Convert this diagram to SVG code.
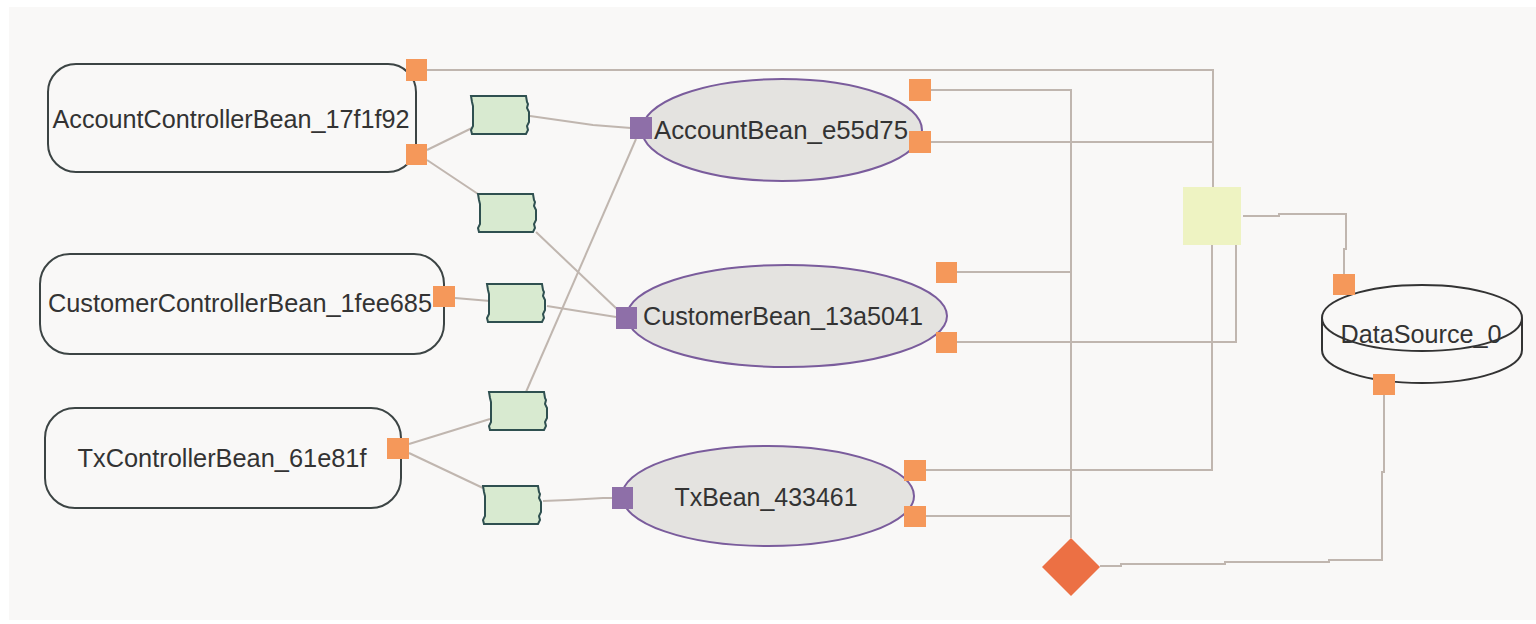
<svg xmlns="http://www.w3.org/2000/svg" width="1536" height="624" viewBox="0 0 1536 624">
<style>
.bg{fill:#f9f8f7}
.ctl{fill:#f9f8f7;stroke:#3c4444;stroke-width:2}
.bean{fill:#e4e3e0;stroke:#7a5c9c;stroke-width:2}
.lbl{font-family:"Liberation Sans",Arial,sans-serif;font-size:26px;fill:#333;text-anchor:middle}
.op{fill:#f5985a}
.pp{fill:#8e6fa8}
.g{fill:#d8ead0;stroke:#2f5050;stroke-width:2}
.wire{fill:none;stroke:#c0b6af;stroke-width:2}
.ds{fill:none;stroke:#333;stroke-width:2}
</style>
<defs>
<path id="tape" d="M0,0 H55 L56,6 L57,8 L56,12 L58,16 V26 L56,30 L57,34 L55,38 H1 L0,34 L2,30 V10 L1,6 Z"/>
</defs>
<rect x="0" y="0" width="1536" height="624" fill="#ffffff"/>
<rect class="bg" x="9" y="7" width="1527" height="613"/>

<g id="connectors">
<polyline class="wire" points="427,70 1213,70 1213,187"/>
<polyline class="wire" points="931,90 1071,90 1071,538"/>
<polyline class="wire" points="931,142 1213,142"/>
<polyline class="wire" points="957,272 1071,272"/>
<polyline class="wire" points="957,342 1236,342 1236,245"/>
<polyline class="wire" points="926,470 1212,470 1212,245"/>
<polyline class="wire" points="926,516 1071,516"/>
<polyline class="wire" points="1243,216 1279,216 1279,214 1346,214 1346,249 1344,249 1344,274"/>
<polyline class="wire" points="1384,395 1384,472 1382,472 1382,560 1329,560 1329,562 1225,562 1225,564 1121,564 1121,566 1100,566"/>
<polyline class="wire" points="427,150 472,128"/>
<polyline class="wire" points="427,160 478,194"/>
<polyline class="wire" points="530,116 593,125 631,128"/>
<polyline class="wire" points="536,232 618,310"/>
<polyline class="wire" points="455,298 490,301"/>
<polyline class="wire" points="547,306 616,317"/>
<polyline class="wire" points="526,392 636,139"/>
<polyline class="wire" points="409,444 490,419"/>
<polyline class="wire" points="409,453 483,488"/>
<polyline class="wire" points="543,501 568,500 603,498 612,498"/>
</g>

<g id="AccountControllerBean">
<rect class="ctl" x="48" y="64" width="368" height="108" rx="28"/>
<text class="lbl" x="231" y="128" textLength="357" lengthAdjust="spacingAndGlyphs">AccountControllerBean_17f1f92</text>
<rect class="op" x="406" y="59" width="21" height="22"/>
<rect class="op" x="406" y="144" width="21" height="21"/>
</g>

<g id="CustomerControllerBean">
<rect class="ctl" x="40" y="254" width="404" height="100" rx="30"/>
<text class="lbl" x="240" y="312" textLength="384" lengthAdjust="spacingAndGlyphs">CustomerControllerBean_1fee685</text>
<rect class="op" x="433" y="286" width="22" height="21"/>
</g>

<g id="TxControllerBean">
<rect class="ctl" x="45" y="408" width="356" height="100" rx="30"/>
<text class="lbl" x="222" y="467" textLength="289" lengthAdjust="spacingAndGlyphs">TxControllerBean_61e81f</text>
<rect class="op" x="387" y="438" width="22" height="21"/>
</g>

<g id="tape1"><use href="#tape" class="g" x="471" y="96"/></g>
<g id="tape2"><use href="#tape" class="g" x="478" y="194"/></g>
<g id="tape3"><use href="#tape" class="g" x="487" y="284"/></g>
<g id="tape4"><use href="#tape" class="g" x="489" y="392"/></g>
<g id="tape5"><use href="#tape" class="g" x="483" y="486"/></g>

<g id="AccountBean">
<ellipse class="bean" cx="782" cy="130" rx="140" ry="51"/>
<text class="lbl" x="781" y="139" textLength="254" lengthAdjust="spacingAndGlyphs">AccountBean_e55d75</text>
<rect class="pp" x="630" y="117" width="22" height="22"/>
<rect class="op" x="909" y="79" width="22" height="22"/>
<rect class="op" x="909" y="131" width="22" height="22"/>
</g>

<g id="CustomerBean">
<ellipse class="bean" cx="787" cy="316" rx="160" ry="51"/>
<text class="lbl" x="783" y="325" textLength="280" lengthAdjust="spacingAndGlyphs">CustomerBean_13a5041</text>
<rect class="pp" x="616" y="307" width="21" height="22"/>
<rect class="op" x="936" y="262" width="21" height="21"/>
<rect class="op" x="936" y="332" width="21" height="21"/>
</g>

<g id="TxBean">
<ellipse class="bean" cx="768" cy="496" rx="146" ry="50"/>
<text class="lbl" x="766" y="506" textLength="183" lengthAdjust="spacingAndGlyphs">TxBean_433461</text>
<rect class="pp" x="612" y="487" width="21" height="22"/>
<rect class="op" x="904" y="460" width="22" height="21"/>
<rect class="op" x="904" y="506" width="22" height="21"/>
</g>

<g id="Junction">
<rect x="1183" y="187" width="58" height="58" fill="#eef3c2"/>
</g>

<g id="Diamond">
<polygon points="1071,538 1100,567 1071,596 1042,567" fill="#ec7044"/>
</g>

<g id="DataSource_0">
<ellipse class="ds" cx="1422" cy="318" rx="100" ry="33"/>
<path class="ds" d="M1322,318 V350 A100,33 0 0 0 1522,350 V318"/>
<text class="lbl" x="1421" y="343" textLength="161" lengthAdjust="spacingAndGlyphs">DataSource_0</text>
<rect class="op" x="1333" y="274" width="22" height="21"/>
<rect class="op" x="1373" y="374" width="22" height="21"/>
</g>
</svg>
